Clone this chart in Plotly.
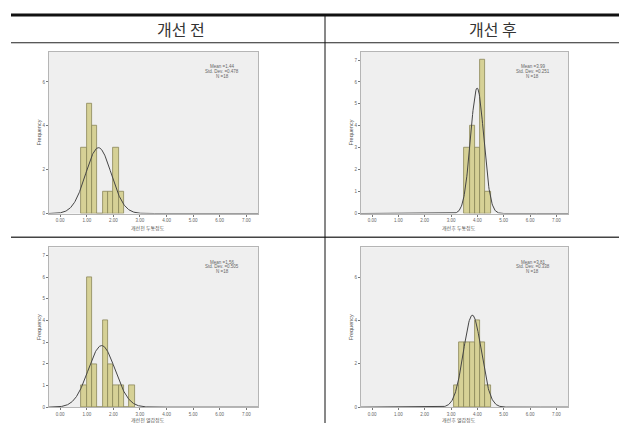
import numpy as np
import plotly.graph_objects as go

W, H = 627, 423

# ---------------- data ----------------
headers = ["개선 전", "개선 후"]
x_tick_vals = [0, 1, 2, 3, 4, 5, 6, 7]
x_tick_text = ["0.00", "1.00", "2.00", "3.00", "4.00", "5.00", "6.00", "7.00"]
bin_width = 0.2

tl_centers = [0.9, 1.1, 1.3, 1.5, 1.7, 1.9, 2.1, 2.3]
tl_counts = [3, 5, 4, 0, 1, 1, 3, 1]
tl_mean, tl_sd, tl_n = 1.44, 0.478, 18
tl_title = "개선전 두통정도"

tr_centers = [3.6, 3.8, 4.0, 4.2, 4.4]
tr_counts = [3, 4, 3, 7, 1]
tr_mean, tr_sd, tr_n = 3.99, 0.251, 18
tr_title = "개선후 두통정도"

bl_centers = [0.9, 1.1, 1.3, 1.5, 1.7, 1.9, 2.1, 2.3, 2.5, 2.7]
bl_counts = [1, 6, 2, 0, 4, 2, 1, 1, 0, 1]
bl_mean, bl_sd, bl_n = 1.56, 0.505, 18
bl_title = "개선전 열감정도"

br_centers = [3.2, 3.4, 3.6, 3.8, 4.0, 4.2, 4.4]
br_counts = [1, 3, 3, 3, 4, 3, 1]
br_mean, br_sd, br_n = 3.81, 0.338, 18
br_title = "개선후 열감정도"

y_ticks_step2 = [0, 2, 4, 6]
y_ticks_step1 = [0, 1, 2, 3, 4, 5, 6, 7]

panels = [
    dict(c=tl_centers, v=tl_counts, m=tl_mean, s=tl_sd, n=tl_n, t=tl_title,
         yt=y_ticks_step2, box=(41, 250, 44, 207), toff=15),
    dict(c=tr_centers, v=tr_counts, m=tr_mean, s=tr_sd, n=tr_n, t=tr_title,
         yt=y_ticks_step1, box=(353, 560, 44, 207), toff=15),
    dict(c=bl_centers, v=bl_counts, m=bl_mean, s=bl_sd, n=bl_n, t=bl_title,
         yt=y_ticks_step1, box=(41, 250, 241, 402), toff=13),
    dict(c=br_centers, v=br_counts, m=br_mean, s=br_sd, n=br_n, t=br_title,
         yt=y_ticks_step2, box=(353, 560, 241, 402), toff=13),
]

def pxx(x):
    return x / W

def pyy(y):
    return 1 - y / H

XR = [-0.42, 7.44]
YR = [0, 7.38]

fig = go.Figure()
layout = {}
annotations = []
shapes = []

for i, p in enumerate(panels):
    sfx = "" if i == 0 else str(i + 1)
    xa, ya = "x" + sfx, "y" + sfx
    l, r, t, b = p["box"]
    fig.add_trace(go.Bar(
        x=p["c"], y=p["v"], width=bin_width, xaxis=xa, yaxis=ya,
        marker=dict(color="#d6d196", line=dict(color="#8a8658", width=0.8)),
        showlegend=False, hoverinfo="skip"))
    xs = np.linspace(XR[0], XR[1], 500)
    ys = p["n"] * bin_width / (p["s"] * np.sqrt(2 * np.pi)) * np.exp(-0.5 * ((xs - p["m"]) / p["s"]) ** 2)
    fig.add_trace(go.Scatter(
        x=xs, y=ys, mode="lines", xaxis=xa, yaxis=ya,
        line=dict(color="#454545", width=1), showlegend=False, hoverinfo="skip"))
    layout["xaxis" + sfx] = dict(
        domain=[pxx(l), pxx(r)], anchor=ya, range=XR,
        tickvals=x_tick_vals, ticktext=x_tick_text,
        ticks="outside", ticklen=2, tickcolor="#777", tickwidth=0.8,
        tickfont=dict(size=4.5, color="#666", family="Liberation Sans"),
        showline=True, mirror=True, linecolor="#b5b5b5", linewidth=1,
        showgrid=False, zeroline=False, fixedrange=True)
    layout["yaxis" + sfx] = dict(
        domain=[pyy(b), pyy(t)], anchor=xa, range=YR,
        tickvals=p["yt"], ticktext=[str(v) for v in p["yt"]],
        ticks="outside", ticklen=2, tickcolor="#777", tickwidth=0.8,
        tickfont=dict(size=4.5, color="#666", family="Liberation Sans"),
        showline=True, mirror=True, linecolor="#b5b5b5", linewidth=1,
        showgrid=False, zeroline=False, fixedrange=True)
    # axis titles
    annotations.append(dict(
        x=pxx((l + r) / 2 - 6), y=pyy(b + p["toff"]), xref="paper", yref="paper",
        text=p["t"], showarrow=False, xanchor="center", yanchor="middle",
        font=dict(size=5, color="#555", family="Noto Sans CJK KR")))
    annotations.append(dict(
        x=pxx(l - 10), y=pyy((t + b) / 2), xref="paper", yref="paper",
        text="Frequency", showarrow=False, textangle=-90,
        xanchor="center", yanchor="middle",
        font=dict(size=5.5, color="#555", family="Liberation Sans")))
    # stats box text
    lines = ["Mean =%.2f" % p["m"], "Std. Dev. =%.3f" % p["s"], "N =%d" % p["n"]]
    cx = l + (r - l) * 0.83
    for k, s in enumerate(lines):
        annotations.append(dict(
            x=pxx(cx), y=pyy(t + 15 + 4.8 * k), xref="paper", yref="paper",
            text=s, showarrow=False, xanchor="center", yanchor="middle",
            font=dict(size=4.5, color="#666", family="Liberation Sans")))

# table lines
shapes.append(dict(type="line", xref="paper", yref="paper",
                   x0=pxx(3), x1=1, y0=pyy(7), y1=pyy(7),
                   line=dict(color="#111", width=3)))
shapes.append(dict(type="line", xref="paper", yref="paper",
                   x0=pxx(3), x1=1, y0=pyy(35), y1=pyy(35),
                   line=dict(color="#222", width=1)))
shapes.append(dict(type="line", xref="paper", yref="paper",
                   x0=pxx(3), x1=1, y0=pyy(231), y1=pyy(231),
                   line=dict(color="#444", width=1.5)))
shapes.append(dict(type="line", xref="paper", yref="paper",
                   x0=pxx(317), x1=pxx(317), y0=pyy(7), y1=0,
                   line=dict(color="#111", width=1)))

annotations.append(dict(x=pxx(173), y=pyy(21), xref="paper", yref="paper",
                        text=headers[0], showarrow=False, xanchor="center", yanchor="middle",
                        font=dict(size=16, color="#333", family="Noto Sans CJK KR")))
annotations.append(dict(x=pxx(485), y=pyy(21), xref="paper", yref="paper",
                        text=headers[1], showarrow=False, xanchor="center", yanchor="middle",
                        font=dict(size=16, color="#333", family="Noto Sans CJK KR")))

fig.update_layout(
    width=W, height=H, margin=dict(l=0, r=0, t=0, b=0),
    paper_bgcolor="white", plot_bgcolor="#efefef",
    bargap=0, showlegend=False,
    annotations=annotations, shapes=shapes, **layout)

fig.write_html("out.html", config=dict(displayModeBar=False))
